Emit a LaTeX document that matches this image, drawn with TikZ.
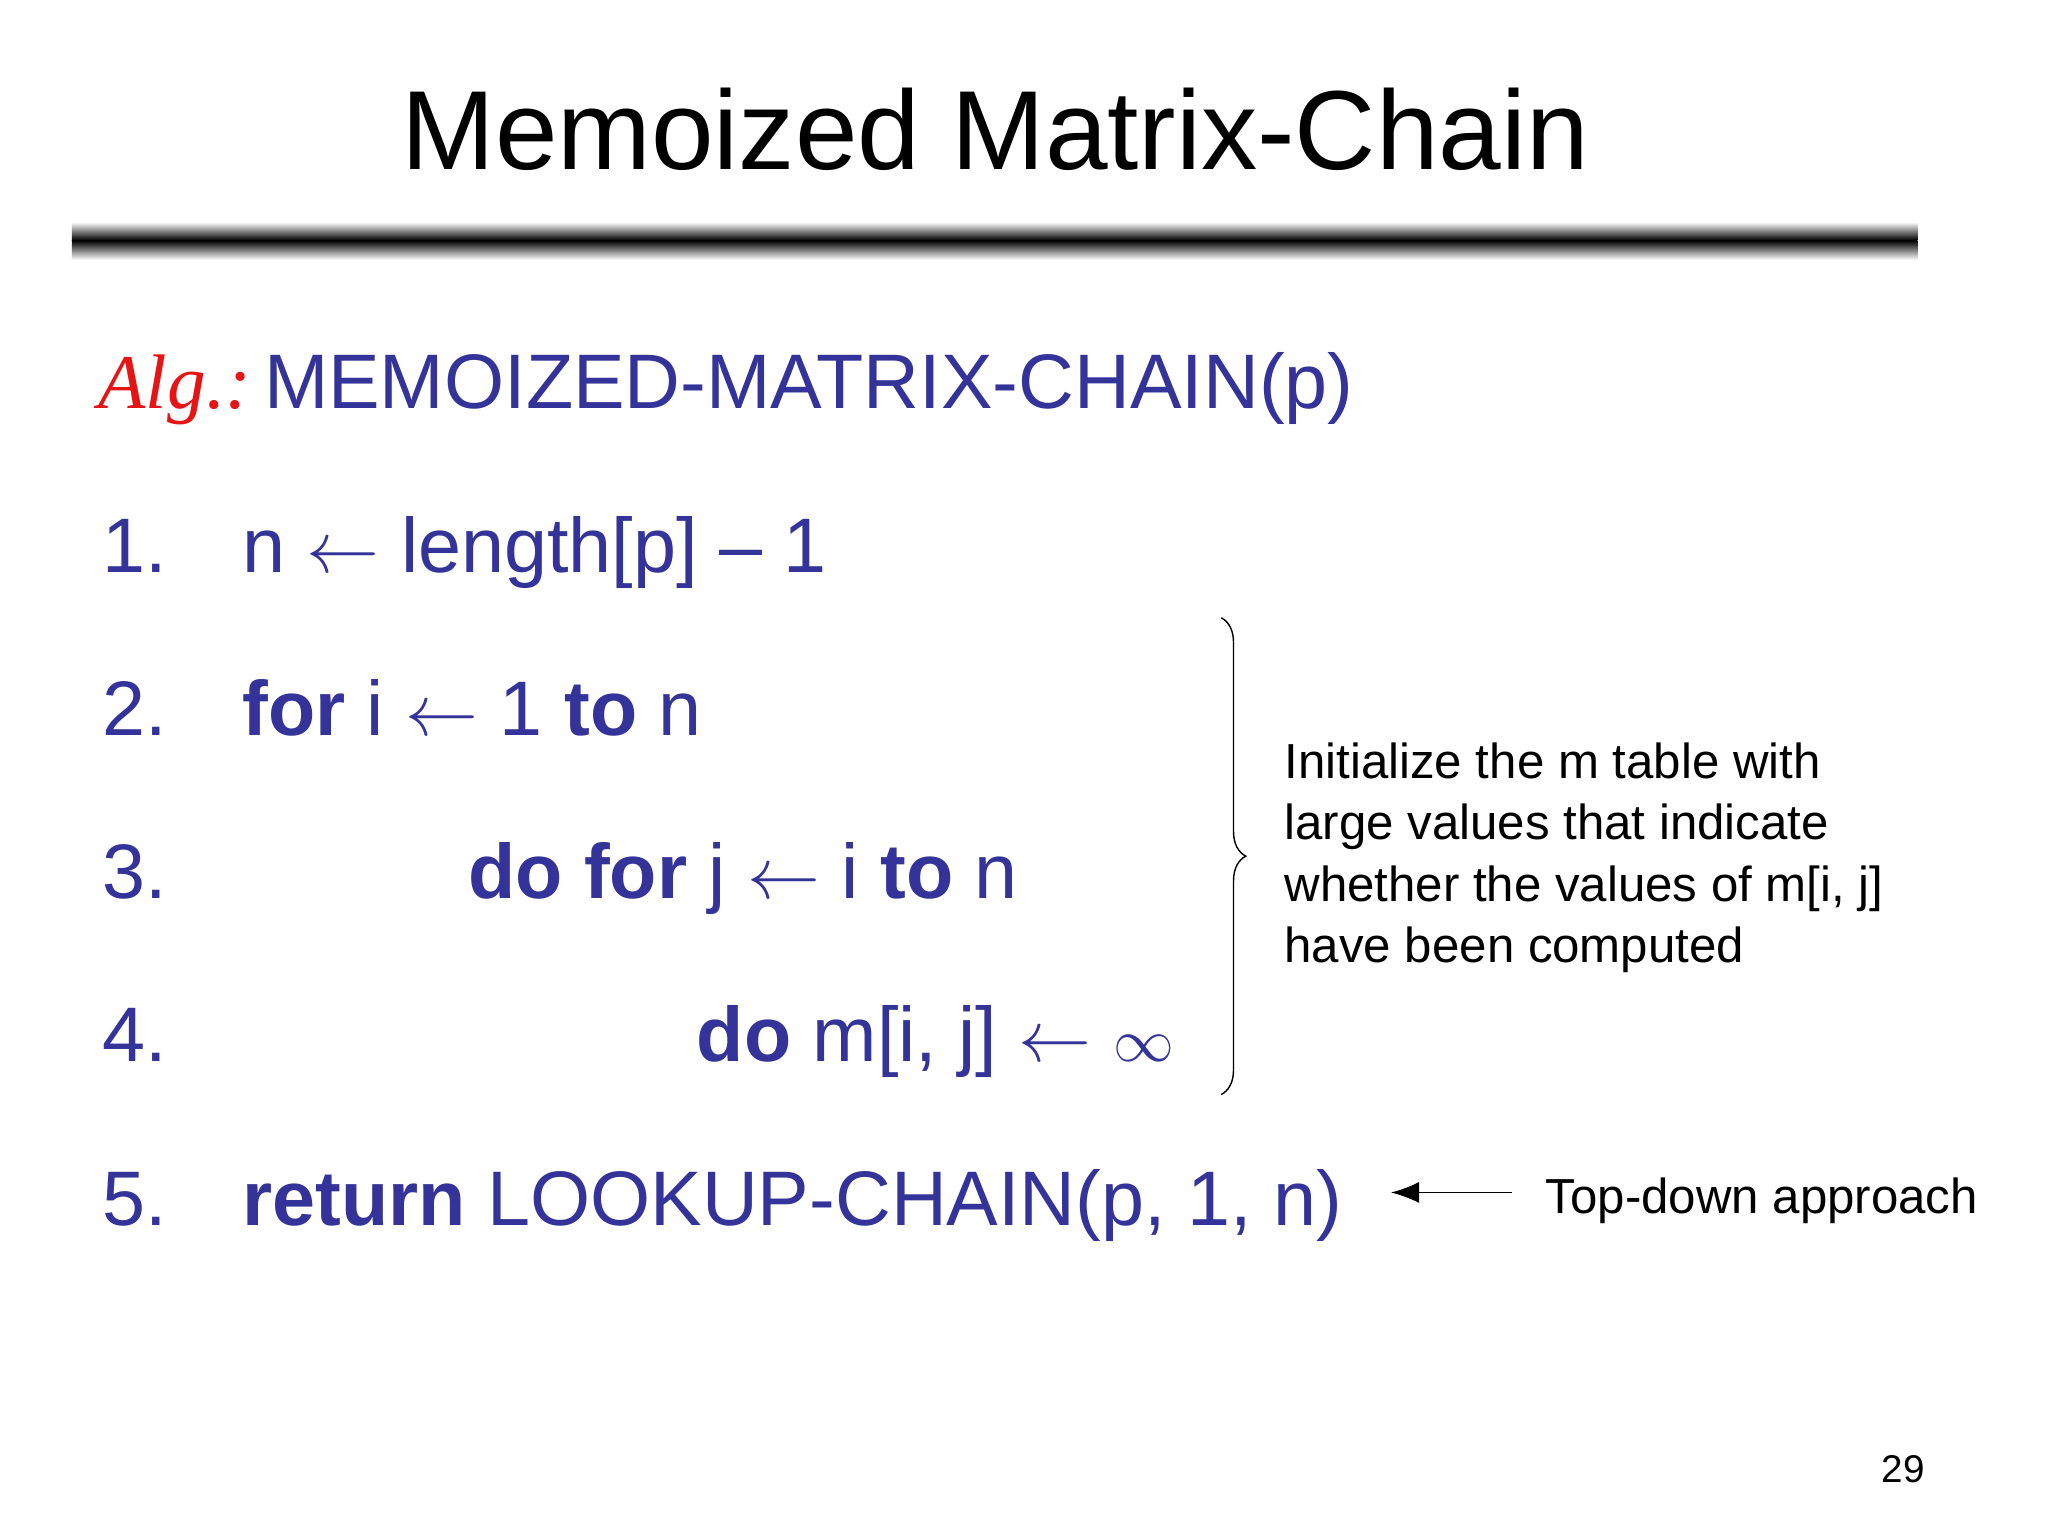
\documentclass[tikz,border=0pt]{standalone}
\usepackage{fontspec}
\setmainfont{Liberation Sans}
\newfontfamily\algfont{Liberation Serif}
\usetikzlibrary{decorations.pathreplacing,arrows.meta}
\definecolor{algblue}{RGB}{51,51,153}
\definecolor{algred}{RGB}{230,20,20}
\begin{document}
\begin{tikzpicture}[x=0.013061cm,y=-0.013061cm,
  codeline/.style={anchor=base west,inner sep=0,text=algblue,font=\fontsize{22}{26}\selectfont},
  note/.style={anchor=north west,inner sep=0,font=\fontsize{14}{17.5}\selectfont,align=left}]
\useasboundingbox (0,0) rectangle (1568,1176);
\fill[white] (0,0) rectangle (1568,1176);
\node[anchor=base,inner sep=0,font=\fontsize{32}{38}\selectfont] (title) at (762,130) {Memoized Matrix-Chain};
\shade[top color=white,bottom color=black] (55,170) rectangle (1468,184);
\shade[top color=black,bottom color=white] (55,184) rectangle (1468,199);
\node[codeline] (alg) at (75,313) {{\algfont\itshape\color{algred}Alg.:}\,MEMOIZED-MATRIX-CHAIN(p)};
\node[codeline] (n1) at (78,438) {1.};
\node[codeline] (l1) at (185,438) {n $\leftarrow$ length[p] -- 1};
\node[codeline] (n2) at (78,563) {2.};
\node[codeline] (l2) at (185,563) {\textbf{for} i $\leftarrow$ 1 \textbf{to} n};
\node[codeline] (n3) at (78,688) {3.};
\node[codeline] (l3) at (358,688) {\textbf{do for} j $\leftarrow$ i \textbf{to} n};
\node[codeline] (n4) at (78,813) {4.};
\node[codeline] (l4) at (533,813) {\textbf{do} m[i, j] $\leftarrow$ {\fontsize{18}{20}\selectfont$\infty$}};
\node[codeline] (n5) at (78,938) {5.};
\node[codeline] (l5) at (185,938) {\textbf{return} LOOKUP-CHAIN(p, 1, n)};
\coordinate (bt) at (935,473);
\coordinate (bb) at (935,838);
\draw[decorate,decoration={brace,amplitude=7pt}] (bt) -- (bb);
\node[note] (init) at (983,568) {Initialize the m table with\\large values that indicate\\whether the values of m[i, j]\\have been computed};
\node[anchor=base west,inner sep=0,font=\fontsize{14}{17.5}\selectfont] (td) at (1183,929) {Top-down approach};
\coordinate (as) at (1158,913);
\coordinate (ae) at (1065,913);
\draw[-{Latex[length=8pt,width=6pt]}] (as) -- (ae);
\node[anchor=base,inner sep=0,font=\fontsize{11}{13}\selectfont] (pg) at (1457,1135) {29};
\end{tikzpicture}
\end{document}
